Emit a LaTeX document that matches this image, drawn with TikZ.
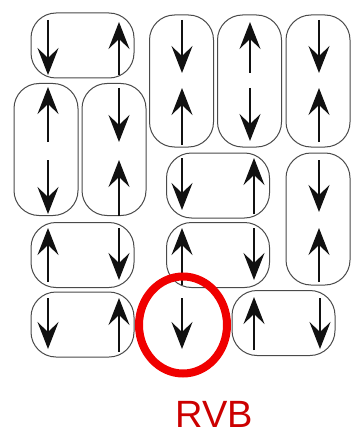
\documentclass[tikz,border=0pt]{standalone}
\usepackage{fontspec}
\usetikzlibrary{arrows.meta,shapes.geometric}
\newfontfamily\labelfont{Liberation Sans}
\definecolor{ink}{HTML}{111111}
\definecolor{rim}{HTML}{4A4A4A}
\definecolor{ring}{HTML}{F00000}
\definecolor{rvbred}{HTML}{CC0000}
\tikzset{
  pill/.style={draw=rim,line width=1pt,rounded corners=25pt,inner sep=0pt},
  hpill/.style={pill,minimum width=103pt,minimum height=65pt},
  vpill/.style={pill,minimum width=64pt,minimum height=132pt},
  spin/.style={draw=ink,line width=1.3pt,-{Stealth[length=27pt,width=21pt,inset=10pt]}},
  ringstyle/.style={draw=ring,line width=8pt}
}
\begin{document}
\begin{tikzpicture}[x=1pt,y=-1pt]
    \useasboundingbox (0,0) rectangle (356,441);
    % horizontal pairs
    \node[hpill] (h1) at (82.5,45.5) {};
    \node[hpill] (h2) at (218,185.5) {};
    \node[hpill] (h3) at (218,255) {};
    \node[hpill] (h4) at (82.5,255) {};
    \node[hpill] (h5) at (82.5,324.5) {};
    \node[hpill] (h6) at (283.5,323) {};
    % vertical pairs
    \node[vpill] (v1) at (46,149.5) {};
    \node[vpill] (v2) at (114,149.5) {};
    \node[vpill] (v3) at (181.5,81) {};
    \node[vpill] (v4) at (249.5,81) {};
    \node[vpill] (v5) at (318,81) {};
    \node[vpill] (v6) at (318,219) {};

    % spins: x / tail / tip
    \foreach \x/\ya/\yb in {48/20/75, 119/75/22,
                            48/142/87, 48/160/214, 119/88/142, 119/216/160,
                            182/20/73, 182/145/88, 250/73/22, 250/88/141,
                            319/20/73, 319/142/88,
                            182/158/210, 254/214/158, 319/160/212, 319/282/228,
                            182/285/228, 254/228/280, 48/282/228, 119/228/280,
                            48/298/349, 119/352/298, 254/350/297, 320/298/349,
                            182/298/349} {
      \draw[spin] (\x,\ya) -- (\x,\yb);
    }

    \node[ringstyle,ellipse,minimum width=88pt,minimum height=97pt,inner sep=0pt] (rvbring) at (183,325) {};
    \node[text=rvbred,font=\labelfont\fontsize{38}{40}\selectfont,inner sep=0pt] (rvb) at (214.5,414) {RVB};
  \end{tikzpicture}
\end{document}
